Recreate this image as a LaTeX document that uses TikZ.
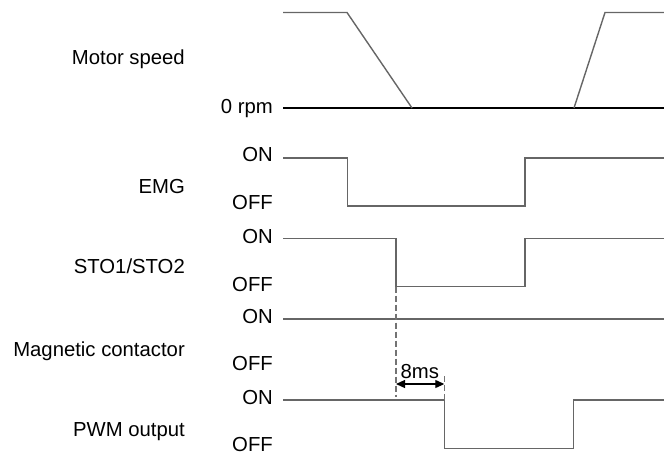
\documentclass[tikz,border=0pt]{standalone}
\usepackage{fontspec}
\setmainfont{Liberation Sans}
\usetikzlibrary{arrows.meta}
\begin{document}
\begin{tikzpicture}[x=1pt,y=-1pt,
  lbl/.style={anchor=base east,inner sep=0pt,font=\fontsize{20.3}{23}\selectfont},
  wave/.style={draw=black!60,line width=1.4pt,line join=miter},
  zero/.style={draw=black,line width=2pt},
  guide/.style={draw=black!55,line width=1.1pt,dash pattern=on 6pt off 3pt},
  dim/.style={draw=black,line width=1.2pt,{Triangle[length=9pt,width=8pt]}-{Triangle[length=9pt,width=8pt]}}]
\useasboundingbox (0,0) rectangle (664,455);
% labels
\node[lbl] (ms) at (185,64.3) {Motor speed};
\node[lbl] (rpm) at (273,113.3) {0 rpm};
\node[lbl] (emg) at (185,193.7) {EMG};
\node[lbl] (emgon) at (273,161.3) {ON};
\node[lbl] (emgoff) at (273,209.7) {OFF};
\node[lbl] (sto) at (185,273.7) {STO1/STO2};
\node[lbl] (stoon) at (273,243) {ON};
\node[lbl] (stooff) at (273,291) {OFF};
\node[lbl] (mc) at (185,356.3) {Magnetic contactor};
\node[lbl] (mcon) at (273,323) {ON};
\node[lbl] (mcoff) at (273,370.3) {OFF};
\node[lbl] (pwm) at (185,436.3) {PWM output};
\node[lbl] (pwmon) at (273,404.3) {ON};
\node[lbl] (pwmoff) at (273,451) {OFF};
% motor speed
\coordinate (m0) at (283,12.5);
\coordinate (m1) at (347,12.5);
\coordinate (m2) at (412,108);
\coordinate (m3) at (574,108);
\coordinate (m4) at (605,12.5);
\coordinate (m5) at (664,12.5);
\coordinate (z0) at (283,108);
\coordinate (z1) at (664,108);
\draw[zero] (z0) -- (z1);
\draw[wave] (m0) -- (m1) -- (m2);
\draw[wave] (m3) -- (m4) -- (m5);
% EMG
\coordinate (e0) at (283,158);
\coordinate (e1) at (347.5,158);
\coordinate (e2) at (347.5,206);
\coordinate (e3) at (525,206);
\coordinate (e4) at (525,158);
\coordinate (e5) at (664,158);
\draw[wave] (e0) -- (e1) -- (e2) -- (e3) -- (e4) -- (e5);
% STO
\coordinate (s0) at (283,238.7);
\coordinate (s1) at (396,238.7);
\coordinate (s2) at (396,286.7);
\coordinate (s3) at (525,286.7);
\coordinate (s4) at (525,238.7);
\coordinate (s5) at (664,238.7);
\draw[wave] (s0) -- (s1) -- (s2) -- (s3) -- (s4) -- (s5);
% Magnetic contactor
\coordinate (c0) at (283,319);
\coordinate (c1) at (664,319);
\draw[wave] (c0) -- (c1);
% PWM
\coordinate (p0) at (283,400);
\coordinate (p1) at (444.3,400);
\coordinate (p2) at (444.3,448.7);
\coordinate (p3) at (573.7,448.7);
\coordinate (p4) at (573.7,400);
\coordinate (p5) at (664,400);
\draw[wave] (p0) -- (p1) -- (p2) -- (p3) -- (p4) -- (p5);
% guides and 8 ms
\coordinate (g1) at (396,397);
\coordinate (g2) at (444.3,376);
\coordinate (a1) at (396,384);
\coordinate (a2) at (444.3,384);
\draw[guide] (s2) -- (g1);
\draw[guide] (g2) -- (p1);
\draw[dim] (a1) -- (a2);
\node[anchor=base west,inner sep=0pt,font=\fontsize{20.3}{23}\selectfont] (ems) at (400.5,378.3) {8ms};
\end{tikzpicture}
\end{document}
